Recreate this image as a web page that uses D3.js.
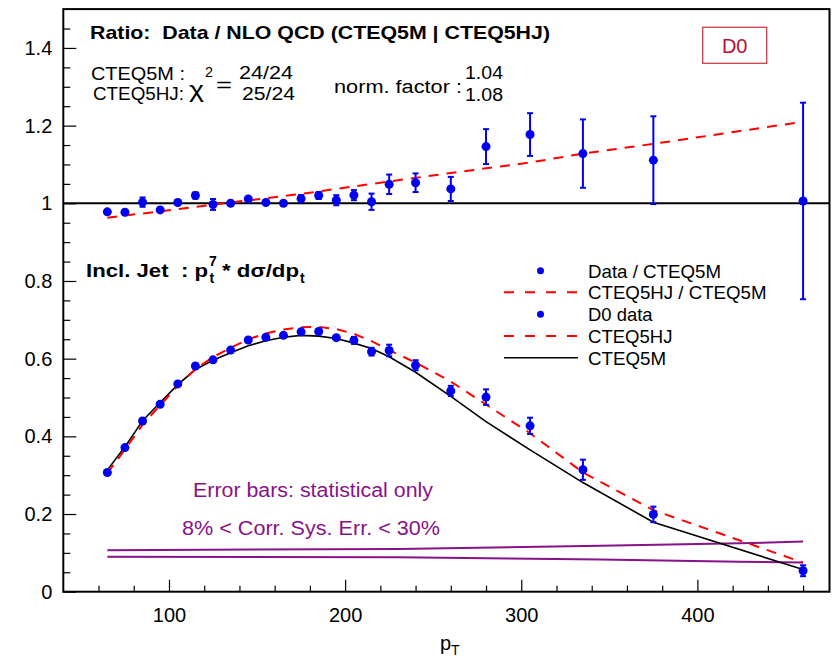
<!DOCTYPE html>
<html>
<head>
<meta charset="utf-8">
<script src="https://cdn.jsdelivr.net/npm/d3@7"></script>
<style>
  html, body { margin: 0; padding: 0; background: #fff; }
  svg text { font-family: "Liberation Sans", Arial, Helvetica, sans-serif; white-space: pre; }
</style>
</head>
<body>
<svg id="chart" width="833" height="662"></svg>
<script>
// Jet transverse momentum bins (GeV)
const pt = [65, 75, 85, 95, 105, 115, 125, 135, 145, 155, 165, 175, 185, 195, 205, 215, 225, 240, 260, 280, 305, 335, 375, 460];

// Data / CTEQ5M ratio and its statistical error
const ratioData = [0.978, 0.977, 1.003, 0.983, 1.002, 1.020, 0.997, 1.000, 1.011, 1.002, 1.000, 1.012, 1.020, 1.008, 1.021, 1.004, 1.049, 1.053, 1.037, 1.146, 1.177, 1.128, 1.111, 1.006];
const ratioErr  = [0.004, 0.007, 0.012, 0.004, 0.005, 0.008, 0.014, 0.004, 0.005, 0.005, 0.005, 0.009, 0.009, 0.013, 0.013, 0.021, 0.025, 0.024, 0.031, 0.045, 0.055, 0.088, 0.113, 0.253];

// CTEQ5HJ / CTEQ5M theory ratio
const ratioTheoryPt = [65, 100, 135, 175, 215, 260, 305, 335, 375, 460];
const ratioTheory   = [0.963, 0.982, 1.002, 1.024, 1.050, 1.078, 1.105, 1.128, 1.153, 1.210];

// pT^7 * dsigma/dpT : D0 data with statistical errors
const d0Data = [0.307, 0.371, 0.4395, 0.4825, 0.535, 0.581, 0.597, 0.622, 0.648, 0.655, 0.660, 0.669, 0.670, 0.654, 0.647, 0.618, 0.621, 0.583, 0.517, 0.501, 0.427, 0.314, 0.199, 0.054];
const d0Err  = [0.002, 0.003, 0.003, 0.004, 0.004, 0.004, 0.004, 0.004, 0.004, 0.004, 0.005, 0.005, 0.005, 0.006, 0.009, 0.010, 0.015, 0.013, 0.013, 0.020, 0.021, 0.026, 0.020, 0.014];

// NLO QCD predictions
const cteq5m  = [0.313, 0.373, 0.440, 0.487, 0.533, 0.572, 0.596, 0.615, 0.633, 0.646, 0.655, 0.660, 0.658, 0.652, 0.640, 0.626, 0.605, 0.565, 0.503, 0.438, 0.365, 0.281, 0.179, 0.057];
const cteq5hj = [0.305, 0.366, 0.430, 0.480, 0.530, 0.573, 0.604, 0.628, 0.650, 0.665, 0.675, 0.681, 0.682, 0.676, 0.664, 0.645, 0.622, 0.590, 0.541, 0.482, 0.408, 0.307, 0.210, 0.075];

// Correlated systematic error band edges
const sysPt    = [65, 230, 345, 424, 460];
const sysUpper = [0.107, 0.110, 0.118, 0.1245, 0.129];
const sysLower = [0.090, 0.089, 0.083, 0.077, 0.075];

// Axis ticks
const xTicks = [100, 200, 300, 400];
const xTickLabels = ["100", "200", "300", "400"];
const xMinorTicks = [60, 80, 120, 140, 160, 180, 220, 240, 260, 280, 320, 340, 360, 380, 420, 440, 460];
const yTicks = [0, 0.2, 0.4, 0.6, 0.8, 1, 1.2, 1.4];
const yTickLabels = ["0", "0.2", "0.4", "0.6", "0.8", "1", "1.2", "1.4"];
const yMinorTicks = [0.05, 0.1, 0.15, 0.25, 0.3, 0.35, 0.45, 0.5, 0.55, 0.65, 0.7, 0.75, 0.85, 0.9, 0.95, 1.05, 1.1, 1.15, 1.25, 1.3, 1.35, 1.45];

const BLUE = "#0000ee", RED = "#ff0000", PURPLE = "#881288";

const svg = d3.select("#chart");
svg.append("rect").attr("width", 833).attr("height", 662).attr("fill", "#fff");

const x = d3.scaleLinear().domain([40, 475]).range([63.3, 829.5]);
const y = d3.scaleLinear().domain([0, 1.5]).range([591.7, 9.1]);

// Axes with inward ticks
const gx = svg.append("g").attr("transform", `translate(0,${y(0)})`)
  .call(d3.axisBottom(x).tickValues(xTicks).tickSize(-12).tickPadding(16)
    .tickFormat((d, i) => xTickLabels[i]));
gx.selectAll("text").attr("font-size", 20).attr("fill", "#000");
svg.append("g").attr("transform", `translate(0,${y(0)})`)
  .call(d3.axisBottom(x).tickValues(xMinorTicks).tickSize(-6).tickFormat(""));

const gy = svg.append("g").attr("transform", `translate(${x(40)},0)`)
  .call(d3.axisLeft(y).tickValues(yTicks).tickSize(-13).tickPadding(11)
    .tickFormat((d, i) => yTickLabels[i]));
gy.selectAll("text").attr("font-size", 20).attr("fill", "#000");
svg.append("g").attr("transform", `translate(${x(40)},0)`)
  .call(d3.axisLeft(y).tickValues(yMinorTicks).tickSize(-7).tickFormat(""));

svg.selectAll(".domain").remove();
svg.selectAll(".tick line").attr("stroke", "#000").attr("stroke-width", 1.2);

// Frame
svg.append("rect")
  .attr("x", x(40)).attr("y", y(1.5))
  .attr("width", x(475) - x(40)).attr("height", y(0) - y(1.5))
  .attr("fill", "none").attr("stroke", "#000").attr("stroke-width", 2);

// Unity line for the ratio
svg.append("line")
  .attr("x1", x(40)).attr("x2", x(475)).attr("y1", y(1)).attr("y2", y(1))
  .attr("stroke", "#000").attr("stroke-width", 2);

const line = d3.line().x(d => x(d[0])).y(d => y(d[1]));

// Systematic error band edges
[sysUpper, sysLower].forEach(arr => {
  svg.append("path").datum(sysPt.map((p, i) => [p, arr[i]]))
    .attr("d", line).attr("fill", "none").attr("stroke", PURPLE).attr("stroke-width", 2);
});

// Theory curves
svg.append("path").datum(pt.map((p, i) => [p, cteq5m[i]]))
  .attr("d", line).attr("fill", "none").attr("stroke", "#000").attr("stroke-width", 1.6);
svg.append("path").datum(pt.map((p, i) => [p, cteq5hj[i]]))
  .attr("d", line).attr("fill", "none").attr("stroke", RED).attr("stroke-width", 2)
  .attr("stroke-dasharray", "10,8");
svg.append("path").datum(ratioTheoryPt.map((p, i) => [p, ratioTheory[i]]))
  .attr("d", line).attr("fill", "none").attr("stroke", RED).attr("stroke-width", 2)
  .attr("stroke-dasharray", "10,8");

// Data points with error bars
function drawPoints(vals, errs) {
  const g = svg.append("g");
  pt.forEach((p, i) => {
    const cx = x(p), lo = y(vals[i] - errs[i]), hi = y(vals[i] + errs[i]);
    if (lo - hi > 6) {
      g.append("line").attr("x1", cx).attr("x2", cx).attr("y1", lo).attr("y2", hi)
        .attr("stroke", BLUE).attr("stroke-width", 2);
      [lo, hi].forEach(yy => g.append("line")
        .attr("x1", cx - 3).attr("x2", cx + 3).attr("y1", yy).attr("y2", yy)
        .attr("stroke", BLUE).attr("stroke-width", 2));
    }
    g.append("circle").attr("cx", cx).attr("cy", y(vals[i])).attr("r", 4.5).attr("fill", BLUE);
  });
}
drawPoints(ratioData, ratioErr);
drawPoints(d0Data, d0Err);

// Helper for a text spanning a given width
function label(tx, ty, str, size, width, opts = {}) {
  const t = svg.append("text").attr("x", tx).attr("y", ty).attr("font-size", size)
    .attr("fill", opts.fill || "#000").text(str);
  if (opts.bold) t.attr("font-weight", "bold");
  if (width) t.attr("textLength", width).attr("lengthAdjust", "spacingAndGlyphs");
  return t;
}

// Header texts
label(90, 39, "Ratio:  Data / NLO QCD (CTEQ5M | CTEQ5HJ)", 19, 460, { bold: true });
label(91, 80, "CTEQ5M :", 18, 94);
label(93, 100, "CTEQ5HJ:", 18, 91);
label(189, 97, "\u03c7", 22, 15);
label(205, 77, "2", 15, 8);
label(216, 92, "=", 20, 16);
label(239, 79, "24/24", 18, 54);
label(242, 100, "25/24", 18, 53);
label(334, 93, "norm. factor :", 18, 128);
label(465, 79, "1.04", 18, 38);
label(465, 101, "1.08", 18, 38);

// Experiment tag
svg.append("rect").attr("x", 702.7).attr("y", 27.3).attr("width", 64).attr("height", 36)
  .attr("fill", "none").attr("stroke", "#c8404c").attr("stroke-width", 1.3);
svg.append("text").attr("x", 734.7).attr("y", 53).attr("text-anchor", "middle")
  .attr("font-size", 20).attr("fill", "#b8102e").text("D0");

// Lower panel title: pt^7 * dsigma/dpt
label(86, 277, "Incl. Jet  : p", 19, 122, { bold: true });
label(209.5, 283, "t", 14, null, { bold: true });
label(209, 266, "7", 14, null, { bold: true });
label(222, 277, "* d\u03c3/dp", 19, 77, { bold: true });
label(300, 283, "t", 14, null, { bold: true });

// Legend
const legX1 = 504, legX2 = 578, legTx = 588;
const legend = [
  { y: 270.7, type: "dot",   label: "Data / CTEQ5M",     w: 133 },
  { y: 292.3, type: "dash",  label: "CTEQ5HJ / CTEQ5M",  w: 178.5 },
  { y: 314.3, type: "dot",   label: "D0 data",           w: 64.5 },
  { y: 336.0, type: "dash",  label: "CTEQ5HJ",           w: 84.5 },
  { y: 357.7, type: "solid", label: "CTEQ5M",            w: 78 }
];
legend.forEach(L => {
  if (L.type === "dot") {
    svg.append("circle").attr("cx", (legX1 + legX2) / 2 - 0.5).attr("cy", L.y).attr("r", 3.5).attr("fill", BLUE);
  } else {
    svg.append("line").attr("x1", legX1).attr("x2", legX2).attr("y1", L.y).attr("y2", L.y)
      .attr("stroke", L.type === "dash" ? RED : "#000").attr("stroke-width", L.type === "dash" ? 2 : 1.6)
      .attr("stroke-dasharray", L.type === "dash" ? "10,11" : null);
  }
  label(legTx, L.y + 6.8, L.label, 19, L.w);
});

// Annotations on errors
label(193, 497, "Error bars: statistical only", 20, 240, { fill: PURPLE });
label(182, 535, "8% < Corr. Sys. Err. < 30%", 20, 258, { fill: PURPLE });

// x axis title
label(440, 650, "p", 20, null);
label(451, 655, "T", 14, null);
</script>
</body>
</html>
